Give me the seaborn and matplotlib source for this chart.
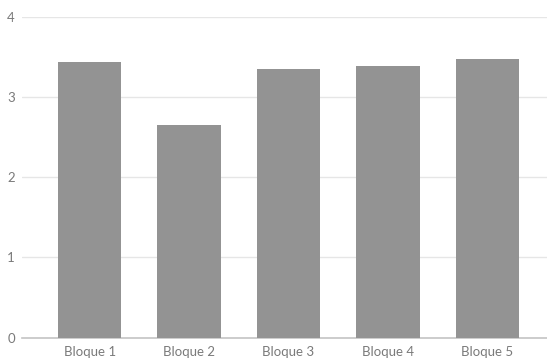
import pandas as pd
import matplotlib.pyplot as plt
import seaborn as sns

categories = ['Bloque 1', 'Bloque 2', 'Bloque 3', 'Bloque 4', 'Bloque 5']
values = [3.44, 2.65, 3.35, 3.38, 3.47]
yticks = [0, 1, 2, 3, 4]


def main():
    sns.set_theme(style='white')
    plt.rcParams['font.family'] = ['Lato', 'DejaVu Sans']

    df = pd.DataFrame({'Bloque': categories, 'Valor': values})

    fig = plt.figure(figsize=(5.47, 3.58), dpi=100)
    ax = fig.add_axes([22 / 547, (358 - 337.7) / 358, 525 / 547, (337.7 - 16.7) / 358])

    sns.barplot(data=df, x='Bloque', y='Valor', color='#939393', saturation=1,
                width=0.64, ax=ax, zorder=3, linewidth=0)

    ax.set_ylim(0, 4)
    ax.set_xlim(-0.68, 4.6)
    ax.set_yticks(yticks)
    ax.yaxis.grid(True, color='#e6e6e6', linewidth=1, zorder=0)
    ax.set_xlabel('')
    ax.set_ylabel('')
    for side in ['top', 'right', 'left']:
        ax.spines[side].set_visible(False)
    ax.spines['bottom'].set_color('#c4c4c4')
    ax.spines['bottom'].set_linewidth(1.2)
    ax.tick_params(axis='both', length=0, labelsize=9.5, colors='#7a7a7a')
    ax.tick_params(axis='y', pad=5)
    ax.tick_params(axis='x', pad=6)

    fig.savefig('out.png', dpi=100)


if __name__ == "__main__":
    main()
